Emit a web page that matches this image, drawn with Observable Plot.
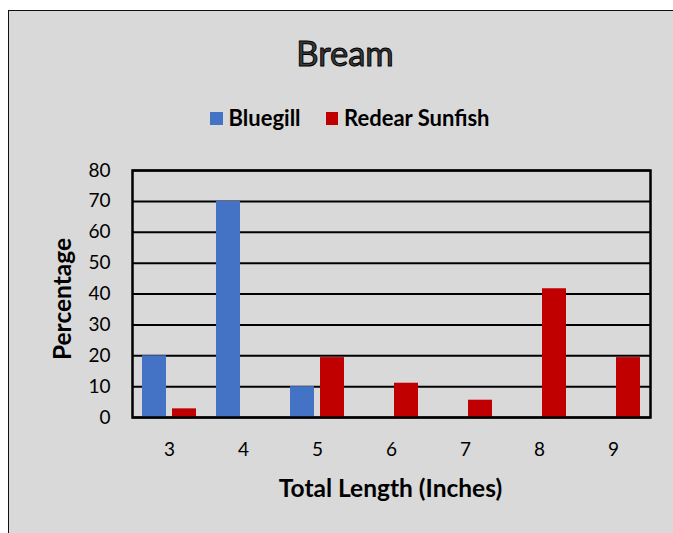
<!DOCTYPE html>
<html>
<head>
<meta charset="utf-8">
<script src="https://cdn.jsdelivr.net/npm/d3@7"></script>
<script src="https://cdn.jsdelivr.net/npm/@observablehq/plot@0.6"></script>
<style>
  html, body { margin: 0; padding: 0; background: #fff; }
  #page { position: relative; width: 673px; height: 533px; overflow: hidden; font-family: Lato, "Open Sans", sans-serif; color: #000; }
  #box { position: absolute; left: 8px; top: 9.5px; width: 720px; height: 600px; background: #d9d9d9; border: 1.8px solid #111; box-sizing: border-box; }
  #title { position: absolute; left: 0; width: 690px; top: 36px; text-align: center; font-size: 34.5px; line-height: 34.5px; color: #3a3a3a; -webkit-text-stroke: 1px #000; }
  #legend { position: absolute; left: 210px; top: 107.2px; display: flex; align-items: center; font-size: 22px; line-height: 22px; font-weight: bold; white-space: nowrap; }
  #legend .sw { width: 12.5px; height: 13px; margin-right: 6px; }
  #legend .item { display: flex; align-items: center; margin-right: 25px; }
  #chart { position: absolute; left: 0; top: 150px; }
  #xtitle { position: absolute; left: 129px; width: 523px; top: 476.3px; text-align: center; font-size: 24.5px; line-height: 24.5px; font-weight: bold; white-space: nowrap; }
  #ytitle { position: absolute; left: 61.7px; top: 299px; width: 0; height: 0; }
  #ytitle span { position: absolute; left: 0; top: 0; display: block; transform: translate(-50%, -50%) rotate(-90deg); font-size: 24.5px; line-height: 24.5px; font-weight: bold; white-space: nowrap; }
</style>
</head>
<body>
<div id="page">
  <div id="box"></div>
  <div id="title">Bream</div>
  <div id="legend"></div>
  <div id="chart"></div>
  <div id="xtitle">Total Length (Inches)</div>
  <div id="ytitle"><span>Percentage</span></div>
</div>
<script>
// ---- data ----
const categories = ["3", "4", "5", "6", "7", "8", "9"];
const series = ["Bluegill", "Redear Sunfish"];
const bluegill = [20, 70, 10, 0, 0, 0, 0];
const redear = [2.8, 0, 19.4, 11.1, 5.6, 41.7, 19.4];
const yTicks = [0, 10, 20, 30, 40, 50, 60, 70, 80];
const colors = ["#4472c4", "#c00000"];

const rows = [];
categories.forEach((c, i) => {
  rows.push({length: c, species: series[0], pct: bluegill[i]});
  rows.push({length: c, species: series[1], pct: redear[i]});
});

// legend
const legend = document.getElementById("legend");
series.forEach((s, i) => {
  const item = document.createElement("div");
  item.className = "item";
  const sw = document.createElement("div");
  sw.className = "sw";
  sw.style.background = colors[i];
  const lab = document.createElement("span");
  lab.textContent = s;
  item.appendChild(sw);
  item.appendChild(lab);
  legend.appendChild(item);
});

function build(superFrame) {
  const marks = [
    Plot.ruleY(yTicks, {stroke: "#000", strokeWidth: 2}),
    Plot.barY(rows.filter(d => d.pct > 0), {fx: "length", x: "species", y: "pct", fill: "species"})
  ];
  if (superFrame) marks.push(Plot.frame({facet: "super", stroke: "#000", strokeWidth: 2.5}));
  return Plot.plot({
    width: 673,
    height: 383,
    marginLeft: 129,
    marginRight: 21,
    marginTop: 20,
    marginBottom: 116,
    style: {fontFamily: "Lato, 'Open Sans', sans-serif", fontSize: "19px", color: "#000", background: "transparent", overflow: "visible"},
    fx: {domain: categories, padding: 0, axis: "bottom", tickSize: 0, tickPadding: 25, label: null},
    x: {domain: series, paddingInner: 0.2, paddingOuter: 0.3, axis: null},
    y: {domain: [0, 80], ticks: yTicks, tickSize: 0, tickPadding: 22, label: null},
    color: {domain: series, range: colors},
    marks
  });
}

let svg;
try { svg = build(true); } catch (e) { console.error(e); svg = build(false); }
document.getElementById("chart").appendChild(svg);
</script>
</body>
</html>
